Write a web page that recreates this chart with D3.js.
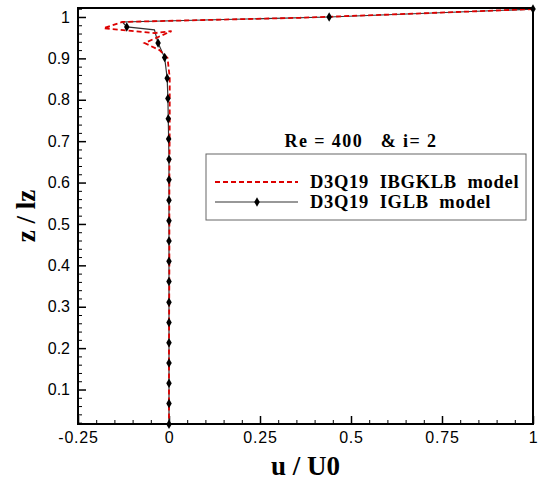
<!DOCTYPE html>
<html>
<head>
<meta charset="utf-8">
<script src="https://cdn.jsdelivr.net/npm/d3@7"></script>
<style>
    body { margin: 0; background: #fff; }
    svg { display: block; }
    .tick text { font-family: "Liberation Sans", Arial, sans-serif; font-size: 16px; fill: #000; }
    .serif { font-family: "Liberation Serif", "Times New Roman", serif; font-weight: bold; fill: #000; }
</style>
</head>
<body>
<svg id="chart" width="542" height="484"></svg>
<script>
// --- Data ---
// IGLB model (solid line with markers)
const iglbZ = [1.019, 1.000, 0.988, 0.976, 0.969, 0.937, 0.902, 0.852, 0.803, 0.754, 0.705, 0.656,
    0.607, 0.557, 0.508, 0.459, 0.410, 0.361, 0.311, 0.262, 0.213, 0.164, 0.115, 0.066, 0.016];
const iglbU = [1.0, 0.44, -0.128, -0.116, -0.04, -0.03, -0.012, -0.005, -0.003, -0.002, -0.001, 0,
    0, 0, 0, 0, 0, 0, 0, 0, 0, 0, 0, 0, 0];
const iglbMark = [1, 1, 0, 1, 0, 1, 1, 1, 1, 1, 1, 1, 1, 1, 1, 1, 1, 1, 1, 1, 1, 1, 1, 1, 1];

// IBGKLB model (red dashed line)
const ibgkZ = [1.019, 1.005, 0.998, 0.988, 0.973, 0.961, 0.966, 0.937, 0.920, 0.901, 0.853, 0.75,
    0.6, 0.4, 0.2, 0.016];
const ibgkU = [1.0, 0.578, 0.359, -0.128, -0.180, -0.040, 0.007, -0.067, -0.026, -0.004, 0.002, 0.002,
    0.001, 0.001, 0.0, 0.0];

const xTicks = [-0.25, 0, 0.25, 0.5, 0.75, 1];
const xTickLabels = ["-0.25", "0", "0.25", "0.5", "0.75", "1"];
const yTicks = [0.1, 0.2, 0.3, 0.4, 0.5, 0.6, 0.7, 0.8, 0.9, 1];
const yTickLabels = ["0.1", "0.2", "0.3", "0.4", "0.5", "0.6", "0.7", "0.8", "0.9", "1"];

const seriesNames = ["D3Q19  IBGKLB  model", "D3Q19  IGLB  model"];
const legendTitle = "Re = 400   & i= 2";

// --- Layout ---
const svg = d3.select("#chart");
const plotL = 78, plotR = 533, plotT = 8, plotB = 424;

const x = d3.scaleLinear().domain([-0.25, 1]).range([plotL, plotR]);
const y = d3.scaleLinear().domain([0.0167, 1.0217]).range([plotB, plotT]);

// minor ticks
const xMinor = d3.range(-0.25, 1.0001, 0.05).filter(v => !xTicks.some(t => Math.abs(t - v) < 1e-6));
const yMinor = d3.range(0.02, 1.0201, 0.02).filter(v => !yTicks.some(t => Math.abs(t - v) < 1e-6));

svg.append("g")
    .attr("transform", `translate(0,${plotB})`)
    .call(d3.axisBottom(x).tickValues(xMinor).tickSize(-4).tickFormat(""))
    .call(g => g.select(".domain").remove())
    .selectAll("line").attr("stroke", "#000");

svg.append("g")
    .attr("transform", `translate(${plotL},0)`)
    .call(d3.axisLeft(y).tickValues(yMinor).tickSize(-4).tickFormat(""))
    .call(g => g.select(".domain").remove())
    .selectAll("line").attr("stroke", "#000");

const xAxis = svg.append("g")
    .attr("transform", `translate(0,${plotB})`)
    .call(d3.axisBottom(x).tickValues(xTicks).tickSizeInner(-8).tickSizeOuter(0).tickPadding(8)
        .tickFormat((d, i) => xTickLabels[i]));
xAxis.select(".domain").remove();
xAxis.selectAll("line").attr("stroke", "#000").attr("stroke-width", 1.5);
xAxis.selectAll("text").attr("letter-spacing", "0.8px");

const yAxis = svg.append("g")
    .attr("transform", `translate(${plotL},0)`)
    .call(d3.axisLeft(y).tickValues(yTicks).tickSizeInner(-8).tickSizeOuter(0).tickPadding(8)
        .tickFormat((d, i) => yTickLabels[i]));
yAxis.select(".domain").remove();
yAxis.selectAll("line").attr("stroke", "#000").attr("stroke-width", 1.5);

// --- Series ---
const line = d3.line().x(d => x(d.u)).y(d => y(d.z));

const ibgk = ibgkZ.map((z, i) => ({ z, u: ibgkU[i] }));
const iglb = iglbZ.map((z, i) => ({ z, u: iglbU[i], m: iglbMark[i] }));

svg.append("path")
    .datum(iglb)
    .attr("d", line)
    .attr("fill", "none")
    .attr("stroke", "#333")
    .attr("stroke-width", 1.2);

svg.append("path")
    .datum(ibgk)
    .attr("d", line)
    .attr("fill", "none")
    .attr("stroke", "#dd0000")
    .attr("stroke-width", 1.8)
    .attr("stroke-dasharray", "5,3");

const marker = d3.symbol().type(d3.symbolDiamond).size(26);
svg.selectAll(".mk")
    .data(iglb.filter(d => d.m))
    .enter()
    .append("path")
    .attr("class", "mk")
    .attr("d", marker)
    .attr("transform", d => `translate(${x(d.u)},${y(d.z)})`)
    .attr("fill", "#000");

// --- Frame ---
svg.append("rect")
    .attr("x", plotL).attr("y", plotT)
    .attr("width", plotR - plotL).attr("height", plotB - plotT)
    .attr("fill", "none")
    .attr("stroke", "#000")
    .attr("stroke-width", 2);

// --- Axis titles ---
svg.append("text")
    .attr("class", "serif")
    .attr("x", (plotL + plotR) / 2)
    .attr("y", 475)
    .attr("text-anchor", "middle")
    .style("font-size", "27px")
    .text("u / U0");

svg.append("text")
    .attr("class", "serif")
    .attr("transform", `translate(35,${(plotT + plotB) / 2}) rotate(-90)`)
    .attr("text-anchor", "middle")
    .style("font-size", "27px")
    .text("z / lz");

// --- Legend ---
svg.append("text")
    .attr("class", "serif")
    .attr("x", 361)
    .attr("y", 147)
    .attr("text-anchor", "middle")
    .style("font-size", "18px")
    .style("white-space", "pre")
    .attr("letter-spacing", "1.4px")
    .text(legendTitle);

svg.append("rect")
    .attr("x", 206).attr("y", 154)
    .attr("width", 320).attr("height", 66)
    .attr("fill", "#fff")
    .attr("stroke", "#666")
    .attr("stroke-width", 1);

svg.append("line")
    .attr("x1", 215).attr("x2", 298).attr("y1", 182).attr("y2", 182)
    .attr("stroke", "#dd0000").attr("stroke-width", 1.8).attr("stroke-dasharray", "5,3");

svg.append("line")
    .attr("x1", 215).attr("x2", 298).attr("y1", 202).attr("y2", 202)
    .attr("stroke", "#333").attr("stroke-width", 1.2);

svg.append("path")
    .attr("d", marker)
    .attr("transform", "translate(257,202)")
    .attr("fill", "#000");

svg.selectAll(".leg")
    .data(seriesNames)
    .enter()
    .append("text")
    .attr("class", "serif leg")
    .attr("x", 310)
    .attr("y", (d, i) => 188 + i * 20)
    .style("font-size", "18.5px")
    .style("white-space", "pre")
    .attr("letter-spacing", "0.7px")
    .text(d => d);
</script>
</body>
</html>
